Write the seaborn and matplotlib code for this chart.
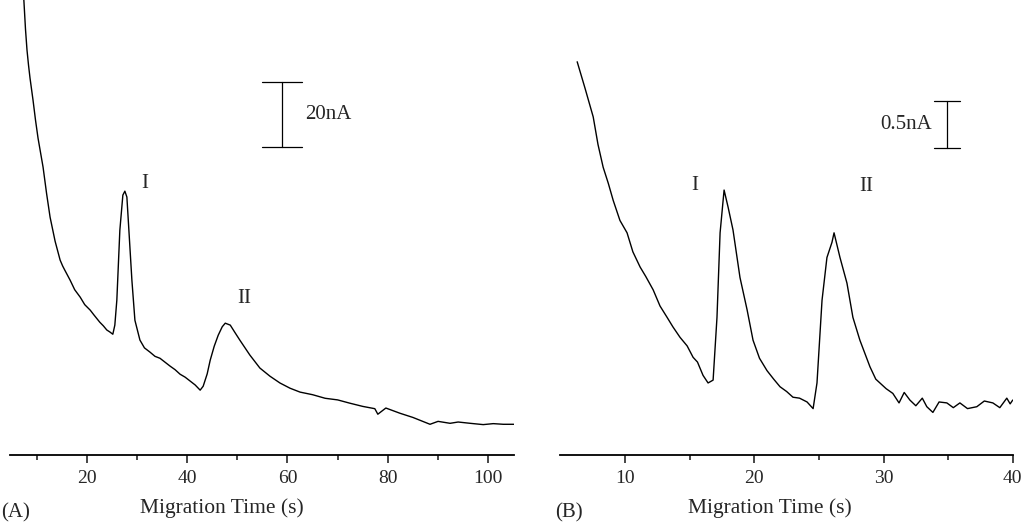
import numpy as np
import pandas as pd
import matplotlib
matplotlib.use('Agg')
import matplotlib.pyplot as plt
import seaborn as sns

# ---------------------------------------------------------
# Electropherogram traces
# ---------------------------------------------------------
# Panel A: time (s) and current (nA, arbitrary baseline)
time_a = [7.4, 7.8, 8.1, 8.4, 8.7, 9.3, 9.8, 10.3, 11.3, 12.0, 12.7, 13.7, 14.7, 15.2, 15.6, 16.7,
          17.6, 18.7, 19.6, 20.7, 21.4, 22.6, 23.3, 24.0, 24.6, 25.2, 25.6, 26.0,
          26.6, 27.2, 27.6, 28.0, 28.4, 29.0, 29.6, 30.6, 31.5, 32.6, 33.6, 34.6,
          35.6, 36.6, 37.6, 38.6, 39.6, 40.6, 41.6, 42.6, 43.2, 44.0, 44.6, 45.4,
          46.2, 47.0, 47.6, 48.6, 49.5, 50.5, 52.5, 54.5, 56.5, 58.5, 60.5, 62.5,
          65.0, 67.5, 70.0, 72.4, 75.0, 77.4, 78.0, 79.6, 82.4, 85.0, 88.4, 90.0,
          92.4, 94.0, 96.4, 99.0, 101.0, 103.0, 105.1]
current_a = [142.0, 131.0, 124.6, 120.0, 116.0, 109.2, 103.0, 97.5, 88.6, 80.5, 73.2, 65.8, 60.0, 58.2, 57.0, 53.8,
             50.9, 48.6, 46.3, 44.6, 43.2, 40.9, 39.8, 38.5, 37.9, 37.2, 40.0, 47.7,
             69.2, 80.0, 81.2, 79.4, 69.2, 53.8, 41.5, 35.4, 33.0, 31.7, 30.4, 29.8,
             28.6, 27.4, 26.3, 24.9, 24.0, 22.8, 21.6, 20.0, 21.2, 25.0, 29.2, 33.5,
             36.9, 39.5, 40.6, 40.0, 37.8, 35.4, 30.8, 26.8, 24.3, 22.2, 20.6, 19.4,
             18.6, 17.5, 17.0, 16.0, 15.0, 14.3, 12.6, 14.5, 12.9, 11.6, 9.5, 10.4,
             9.8, 10.2, 9.8, 9.4, 9.7, 9.5, 9.5]

# Panel B: time (s) and current (nA, arbitrary baseline)
time_b = [6.29, 6.9, 7.53, 7.9, 8.30, 8.7, 9.08, 9.6, 10.15, 10.6, 11.16, 11.6, 12.17,
          12.7, 13.25, 13.7, 14.25, 14.8, 15.26, 15.6, 16.03, 16.42, 16.81, 17.11,
          17.35, 17.66, 17.97, 18.35, 18.89, 19.44, 19.90, 20.4, 20.98, 21.5, 21.99,
          22.5, 22.99, 23.5, 24.08, 24.55, 24.85, 25.24, 25.62, 26.01, 26.17, 26.63,
          27.17, 27.63, 28.17, 28.95, 29.4, 29.72, 30.2, 30.72, 31.2, 31.6, 32.04,
          32.5, 33.0, 33.35, 33.82, 34.3, 34.90, 35.4, 35.91, 36.5, 37.22, 37.8,
          38.46, 39.0, 39.54, 39.8, 40.0]
current_b = [4.14, 3.86, 3.56, 3.27, 3.03, 2.86, 2.68, 2.47, 2.34, 2.14, 1.98, 1.88, 1.74,
             1.57, 1.45, 1.35, 1.24, 1.15, 1.03, 0.98, 0.84, 0.76, 0.79, 1.45,
             2.34, 2.79, 2.61, 2.37, 1.87, 1.53, 1.21, 1.02, 0.89, 0.80, 0.72,
             0.67, 0.61, 0.60, 0.56, 0.49, 0.76, 1.63, 2.08, 2.24, 2.34, 2.08,
             1.81, 1.45, 1.21, 0.93, 0.80, 0.76, 0.70, 0.65, 0.55, 0.66, 0.58,
             0.52, 0.60, 0.51, 0.45, 0.56, 0.55, 0.50, 0.55, 0.49, 0.51, 0.57,
             0.55, 0.50, 0.60, 0.54, 0.58]

# scale bars: (time, low current, high current) and their labels
scalebar_a = (58.9, 94.8, 114.8)
scalebar_b = (34.9, 3.23, 3.73)
peak_labels_a = [('I', 31.6, 83.7), ('II', 51.3, 48.3)]
peak_labels_b = [('I', 15.4, 2.84), ('II', 28.7, 2.83)]

df_a = pd.DataFrame({'time': time_a, 'current': current_a})
df_b = pd.DataFrame({'time': time_b, 'current': current_b})

sns.set_style('white')
plt.rcParams['font.family'] = ['Liberation Serif', 'DejaVu Serif']

fig = plt.figure(figsize=(10.24, 5.25), dpi=100)
ax_a = fig.add_axes([0.0098, 0.133, 0.492, 0.867])
ax_b = fig.add_axes([0.547, 0.133, 0.442, 0.867])

sns.lineplot(data=df_a, x='time', y='current', ax=ax_a, color='black', linewidth=1.0)
sns.lineplot(data=df_b, x='time', y='current', ax=ax_b, color='black', linewidth=1.0)

ax_a.set_xlim(4.72, 105.1)
ax_a.set_ylim(0, 140)
ax_b.set_xlim(4.97, 40.0)
ax_b.set_ylim(0, 4.79)

ax_a.set_xticks([20, 40, 60, 80, 100])
ax_a.set_xticks([10, 30, 50, 70, 90], minor=True)
ax_b.set_xticks([10, 20, 30, 40])
ax_b.set_xticks([15, 25, 35], minor=True)

for ax in (ax_a, ax_b):
    for s in ('top', 'left', 'right'):
        ax.spines[s].set_visible(False)
    ax.spines['bottom'].set_linewidth(1.3)
    ax.spines['bottom'].set_color('black')
    ax.set_yticks([])
    ax.set_ylabel('')
    ax.set_xlabel('Migration Time (s)', fontsize=15.5)
    ax.tick_params(axis='x', which='major', direction='out', length=6, width=1.2,
                   labelsize=14, pad=5, bottom=True)
    ax.tick_params(axis='x', which='minor', direction='out', length=3.5, width=1.2, bottom=True)
    ax.set_facecolor('none')

ax_a.xaxis.set_label_coords(0.42, -0.095)
ax_b.xaxis.set_label_coords(0.464, -0.095)

# scale bars
def scale_bar(ax, bar, half_cap, label, label_x, ha):
    t, lo, hi = bar
    ax.plot([t, t], [lo, hi], color='black', linewidth=0.9)
    ax.plot([t - half_cap, t + half_cap], [lo, lo], color='black', linewidth=0.9)
    ax.plot([t - half_cap, t + half_cap], [hi, hi], color='black', linewidth=0.9)
    ax.text(label_x, (lo + hi) / 2, label, fontsize=15, ha=ha, va='center')

scale_bar(ax_a, scalebar_a, 3.9, '20nA', 63.5, 'left')
scale_bar(ax_b, scalebar_b, 1.0, '0.5nA', 33.75, 'right')

for ax, labels in ((ax_a, peak_labels_a), (ax_b, peak_labels_b)):
    for txt, x, y in labels:
        ax.text(x, y, txt, fontsize=15, ha='center', va='center')

fig.text(0.001, 0.005, '(A)', fontsize=15, ha='left', va='bottom')
fig.text(0.542, 0.005, '(B)', fontsize=15, ha='left', va='bottom')

fig.savefig('out.png', dpi=100)
